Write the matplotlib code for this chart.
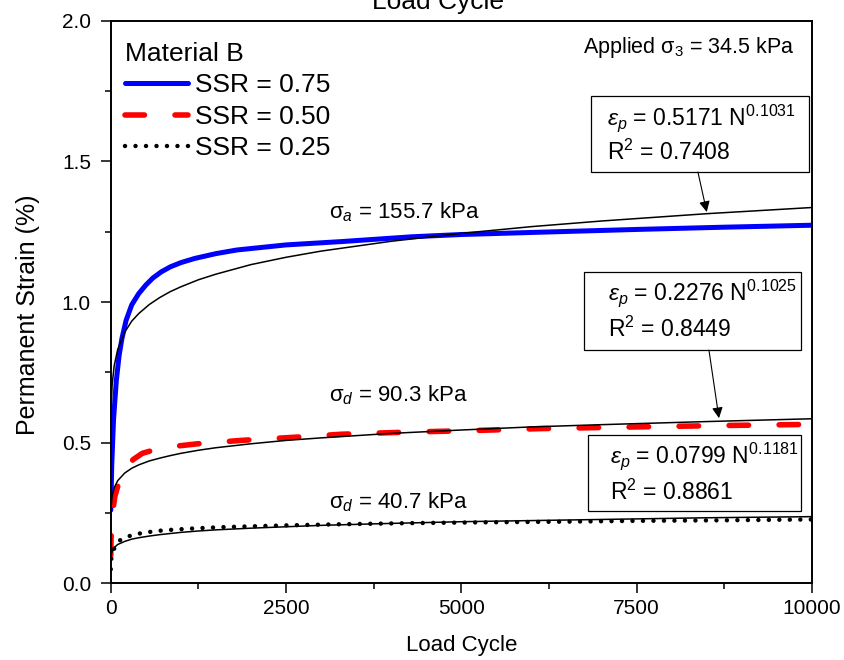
import matplotlib
matplotlib.use("Agg")
import matplotlib.pyplot as plt
from matplotlib.patches import Rectangle
from matplotlib.ticker import MultipleLocator, FormatStrFormatter

plt.rcParams["font.family"] = ["Liberation Sans", "DejaVu Sans"]
plt.rcParams["mathtext.fontset"] = "custom"
plt.rcParams["mathtext.rm"] = "Liberation Sans"
plt.rcParams["mathtext.it"] = "Liberation Sans:italic"
plt.rcParams["mathtext.bf"] = "Liberation Sans:bold"

n_075 = [1, 15, 40, 80, 120, 160, 220, 300, 400, 500, 600, 720, 850, 1000,
         1200, 1500, 1800, 2500, 3300, 4300, 5000, 6100, 7500, 8750, 10000]
eps_075 = [0.26, 0.42, 0.58, 0.72, 0.81, 0.87, 0.935, 0.99, 1.03, 1.06,
           1.085, 1.107, 1.125, 1.14, 1.155, 1.172, 1.185, 1.203, 1.215,
           1.232, 1.240, 1.248, 1.258, 1.266, 1.273]

n_050 = [1, 5, 20, 60, 130, 220, 320, 450, 670, 950, 1240, 1860, 2670, 3290,
         4300, 5000, 6140, 7500, 8750, 10000]
eps_050 = [0.10, 0.16, 0.24, 0.31, 0.37, 0.41, 0.44, 0.462, 0.478, 0.488,
           0.496, 0.508, 0.520, 0.530, 0.538, 0.542, 0.550, 0.556, 0.561,
           0.565]

n_025 = [1, 10, 37, 80, 133, 250, 430, 650, 905, 1250, 1620, 2500, 3290, 4300,
         5000, 6430, 7500, 8750, 10000]
eps_025 = [0.05, 0.09, 0.117, 0.138, 0.153, 0.167, 0.178, 0.186, 0.191, 0.196,
           0.200, 0.206, 0.210, 0.214, 0.216, 0.219, 0.222, 0.224, 0.227]

# Power-law fit curves
n_fit = [1, 5, 20, 50, 100, 200, 300, 400, 550, 700, 850, 1000, 1250, 1500,
         2000, 2500, 3000, 4000, 5000, 6000, 7000, 8500, 10000]
fit_075 = [0.517, 0.610, 0.704, 0.774, 0.831, 0.893, 0.932, 0.959, 0.991,
           1.016, 1.037, 1.054, 1.079, 1.099, 1.133, 1.159, 1.181, 1.216,
           1.244, 1.268, 1.288, 1.314, 1.336]
fit_050 = [0.228, 0.268, 0.309, 0.340, 0.365, 0.392, 0.409, 0.421, 0.435,
           0.445, 0.454, 0.462, 0.473, 0.482, 0.496, 0.508, 0.517, 0.533,
           0.545, 0.556, 0.564, 0.575, 0.585]
fit_025 = [0.080, 0.097, 0.114, 0.127, 0.138, 0.149, 0.157, 0.162, 0.168,
           0.173, 0.177, 0.181, 0.186, 0.190, 0.196, 0.201, 0.206, 0.213,
           0.219, 0.223, 0.227, 0.233, 0.237]

fig = plt.figure(figsize=(8.45, 6.6), dpi=100)
ax = fig.add_axes([0.1310, 0.1162, 0.8299, 0.8524])

ax.plot(n_075, eps_075, color="#0000FF", lw=3.6, label="SSR = 0.75",
        solid_capstyle="round", solid_joinstyle="round", zorder=2)
ax.plot(n_050, eps_050, color="#FF0000", lw=4, ls=(0, (3.5, 5.5)),
        dash_capstyle="round", label="SSR = 0.50", zorder=2)
ax.plot(n_025, eps_025, color="black", lw=3.2, ls=(0, (0.01, 2.35)),
        dash_capstyle="round", label="SSR = 0.25", zorder=2)

for fit in (fit_075, fit_050, fit_025):
    ax.plot(n_fit, fit, color="black", lw=1.1, zorder=3)

ax.set_xlim(0, 10000)
ax.set_ylim(0, 2.0)
ax.xaxis.set_major_locator(MultipleLocator(2500))
ax.xaxis.set_minor_locator(MultipleLocator(1250))
ax.yaxis.set_major_locator(MultipleLocator(0.5))
ax.yaxis.set_minor_locator(MultipleLocator(0.25))
ax.yaxis.set_major_formatter(FormatStrFormatter("%.1f"))
ax.tick_params(which="both", direction="out", top=False, right=False,
               width=1.1, labelsize=15)
ax.tick_params(which="major", length=7.2)
ax.tick_params(which="minor", length=4.3)
ax.tick_params(axis="x", pad=4)
ax.tick_params(axis="y", pad=7)
for sp in ax.spines.values():
    sp.set_linewidth(1.4)

ax.set_xlabel("Load Cycle", fontsize=16)
ax.set_ylabel("Permanent Strain (%)", fontsize=18)
ax.xaxis.set_label_coords(0.5, -0.092)
ax.yaxis.set_label_coords(-0.1008, 0.477)

# cut-off title at the very top, as in the original figure
fig.text(438 / 845, 1 - 9 / 660, "Load Cycle", ha="center", va="baseline",
         fontsize=19)

leg = ax.legend(loc="upper left", bbox_to_anchor=(0.0204, 0.963),
                frameon=False, fontsize=19, title="Material B",
                title_fontsize=19, alignment="left", borderpad=0,
                borderaxespad=0, handlelength=2.4, handletextpad=0.27,
                labelspacing=0.29)

# stress labels
ax.text(3113, 1.298, "σ$_{a}$ = 155.7 kPa", fontsize=16, va="baseline")
ax.text(3113, 0.645, "σ$_{d}$ = 90.3 kPa", fontsize=16, va="baseline")
ax.text(3113, 0.268, "σ$_{d}$ = 40.7 kPa", fontsize=16, va="baseline")
ax.text(0.6739, 0.9431, "Applied σ$_{3}$ = 34.5 kPa", fontsize=15.5,
        va="baseline", transform=ax.transAxes)

# fit equation boxes (axes fraction)
boxes = [
    ((0.6845, 0.7316), 0.3112, 0.1346, 0.7073, 0.8146, 0.7524,
     "0.5171", "0.1031", "0.7408"),
    ((0.6749, 0.4147), 0.3090, 0.1386, 0.7091, 0.5036, 0.4383,
     "0.2276", "0.1025", "0.8449"),
    ((0.6806, 0.1285), 0.3033, 0.1351, 0.7120, 0.2144, 0.1481,
     "0.0799", "0.1181", "0.8861"),
]
for (xy, w, h, tx, ty1, ty2, a, b, r2) in boxes:
    ax.add_patch(Rectangle(xy, w, h, transform=ax.transAxes, fill=True,
                           facecolor="white", edgecolor="black", lw=0.9,
                           zorder=4))
    ax.text(tx, ty1, r"$\varepsilon_{p}$ = " + a + " N$^{" + b + "}$",
            fontsize=16.5, va="baseline", transform=ax.transAxes, zorder=5)
    ax.text(tx, ty2, "R$^{2}$ = " + r2, fontsize=16.5, va="baseline",
            transform=ax.transAxes, zorder=5)

arrow = dict(arrowstyle="-|>", color="black", lw=0.8, mutation_scale=16,
             shrinkA=0, shrinkB=0)
ax.annotate("", xy=(8500, 1.320), xytext=(8374, 1.462), arrowprops=arrow,
            zorder=5)
ax.annotate("", xy=(8674, 0.587), xytext=(8531, 0.829), arrowprops=arrow,
            zorder=5)

fig.savefig("out.png", dpi=100)
